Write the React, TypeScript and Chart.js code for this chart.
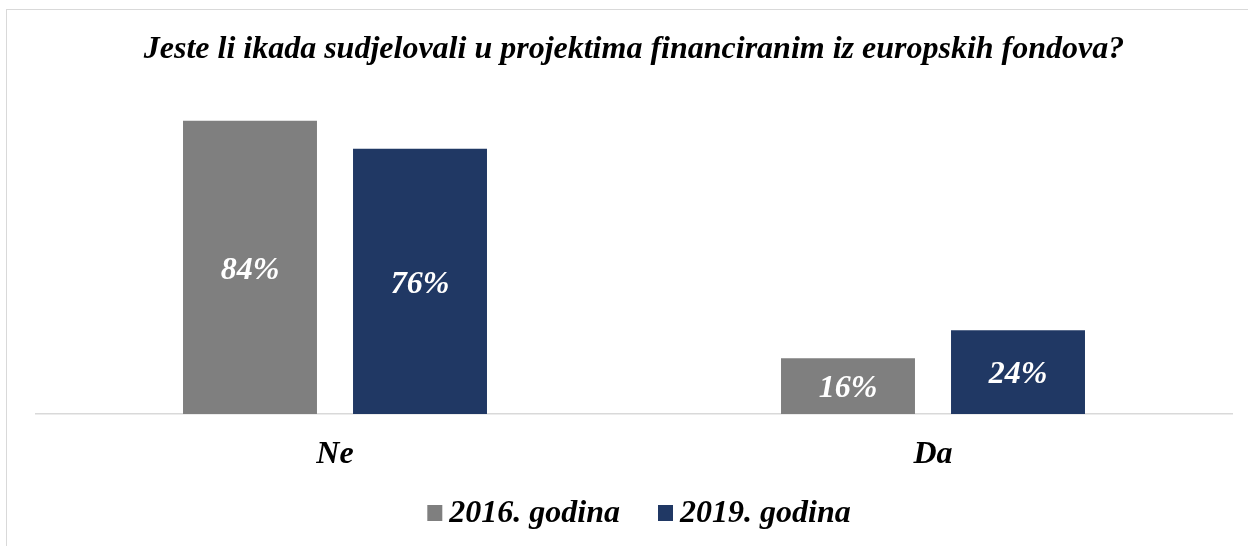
import React, { useEffect, useRef } from "react";
import { Chart, registerables } from "chart.js";

Chart.register(...registerables);

const titleText = "Jeste li ikada sudjelovali u projektima financiranim iz europskih fondova?";
const categories = ["Ne", "Da"];
const seriesLabels = ["2016. godina", "2019. godina"];
const values2016 = [84, 16];
const values2019 = [76, 24];
const seriesColors = ["#7f7f7f", "#203864"];

const FONT = "'Liberation Serif', 'Times New Roman', serif";

const barLabelsPlugin = {
  id: "barLabels",
  afterDatasetsDraw(chart: any) {
    const ctx = chart.ctx;
    ctx.save();
    ctx.font = `italic bold 32px ${FONT}`;
    ctx.fillStyle = "#ffffff";
    ctx.textAlign = "center";
    ctx.textBaseline = "middle";
    chart.data.datasets.forEach((ds: any, di: number) => {
      const meta = chart.getDatasetMeta(di);
      meta.data.forEach((bar: any, i: number) => {
        const v = ds.data[i];
        const y = (bar.y + bar.base) / 2;
        ctx.fillText(`${v}%`, bar.x, y + 3);
      });
    });
    ctx.restore();
  },
};

const customLegendPlugin = {
  id: "customLegend",
  afterDraw(chart: any) {
    const ctx = chart.ctx;
    ctx.save();
    ctx.font = `italic bold 32px ${FONT}`;
    ctx.textBaseline = "middle";
    ctx.textAlign = "left";
    const box = 15;
    const gap = 7;
    const itemGap = 38;
    const items = chart.data.datasets.map((ds: any) => ({
      label: ds.label,
      color: ds.backgroundColor,
      w: box + gap + ctx.measureText(ds.label).width,
    }));
    const total = items.reduce((s: number, it: any) => s + it.w, 0) + itemGap * (items.length - 1);
    const cx = (chart.chartArea.left + chart.chartArea.right) / 2 + 5;
    let x = cx - total / 2;
    const y = 514;
    items.forEach((it: any) => {
      ctx.fillStyle = it.color;
      ctx.fillRect(x, y - 9, box, 16);
      ctx.fillStyle = "#000000";
      ctx.fillText(it.label, x + box + gap, y);
      x += it.w + itemGap;
    });
    ctx.restore();
  },
};

export default function App() {
  const canvasRef = useRef<HTMLCanvasElement | null>(null);

  useEffect(() => {
    if (!canvasRef.current) return;
    const chart = new Chart(canvasRef.current, {
      type: "bar",
      data: {
        labels: categories,
        datasets: [
          {
            label: seriesLabels[0],
            data: values2016,
            backgroundColor: seriesColors[0],
            categoryPercentage: 0.5686,
            barPercentage: 0.788,
          },
          {
            label: seriesLabels[1],
            data: values2019,
            backgroundColor: seriesColors[1],
            categoryPercentage: 0.5686,
            barPercentage: 0.788,
          },
        ],
      },
      options: {
        responsive: false,
        animation: false,
        layout: { padding: { left: 36, right: 16, top: 0, bottom: 0 } },
        plugins: {
          legend: { display: false },
          tooltip: { enabled: false },
          title: {
            display: true,
            text: titleText,
            color: "#000000",
            font: { family: FONT, size: 32, weight: "bold", style: "italic", lineHeight: 1 },
            padding: { top: 34, bottom: -1 },
          },
        },
        scales: {
          x: {
            grid: { display: false, drawTicks: false },
            border: { display: true, color: "#d9d9d9", width: 1.5 },
            ticks: {
              color: "#000000",
              padding: 25,
              font: { family: FONT, size: 32, weight: "bold", style: "italic", lineHeight: 1 },
            },
            afterFit: (scale: any) => {
              scale.height = 132;
            },
          },
          y: {
            display: false,
            min: 0,
            max: 100,
          },
        },
      },
      plugins: [barLabelsPlugin, customLegendPlugin],
    });
    return () => chart.destroy();
  }, []);

  return (
    <div
      style={{
        position: "fixed",
        left: 0,
        top: 0,
        width: 1248,
        height: 546,
        overflow: "hidden",
        background: "#ffffff",
      }}
    >
      <div
        style={{
          position: "absolute",
          left: 6,
          top: 9,
          width: 1300,
          height: 600,
          border: "1px solid #d9d9d9",
        }}
      />
      <canvas
        ref={canvasRef}
        width={1248}
        height={546}
        style={{ position: "absolute", left: 0, top: 0, width: 1248, height: 546 }}
      />
    </div>
  );
}
